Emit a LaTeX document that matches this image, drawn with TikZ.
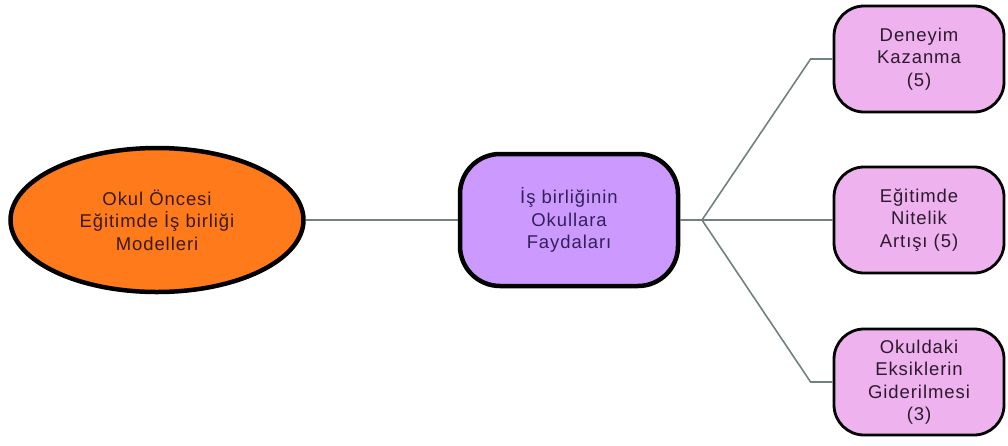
\documentclass[tikz,border=0pt]{standalone}
\usepackage{fontspec}
\setmainfont{Liberation Sans}[LetterSpace=5]
\usepackage{tikz}
\usetikzlibrary{shapes.geometric}
\definecolor{rootFill}{HTML}{FF7A1A}
\definecolor{rootText}{HTML}{3A1A10}
\definecolor{hubFill}{HTML}{CC99FF}
\definecolor{hubText}{HTML}{33205A}
\definecolor{leafFill}{HTML}{EEB2EE}
\definecolor{leafText}{HTML}{2E1A2E}
\definecolor{linkGray}{HTML}{72807F}

\begin{document}
\begin{tikzpicture}[
  x=1pt,
  y=-1pt,
  every node/.style={
    align=center,
    font=\fontsize{18.5}{22.5}\selectfont,
    inner sep=0pt,
  },
  root/.style={
    ellipse,
    draw=black,
    line width=4.5pt,
    fill=rootFill,
    text=rootText,
    minimum width=293pt,
    minimum height=144pt,
  },
  hub/.style={
    rectangle,
    rounded corners=40pt,
    draw=black,
    line width=4.5pt,
    fill=hubFill,
    text=hubText,
    minimum width=218pt,
    minimum height=132pt,
  },
  leaf/.style={
    rectangle,
    rounded corners=30pt,
    draw=black,
    line width=2.8pt,
    fill=leafFill,
    text=leafText,
    minimum width=170pt,
    minimum height=106pt,
  },
  link/.style={
    draw=linkGray,
    line width=1.6pt,
  },
]
\useasboundingbox (0,0) rectangle (1008,445);
\node[root] (okul) at (157,220) {Okul Öncesi\\Eğitimde İş birliği\\Modelleri};
\node[hub] (fayda) at (569,220) {İş birliğinin\\Okullara\\Faydaları};
\node[leaf] (deneyim) at (919,59) {Deneyim\\Kazanma\\(5)};
\node[leaf] (nitelik) at (919,220) {Eğitimde\\Nitelik\\Artışı (5)};
\node[leaf] (eksik) at (919,382) {Okuldaki\\Eksiklerin\\Giderilmesi\\(3)};
\coordinate (fork) at (702,220);
\draw[link] (okul) -- (fayda);
\draw[link] (fayda.east) -- (fork);
\draw[link] (fork) -- ([xshift=-22pt]deneyim.west) -- (deneyim.west);
\draw[link] (fork) -- (nitelik.west);
\draw[link] (fork) -- ([xshift=-22pt]eksik.west) -- (eksik.west);
\end{tikzpicture}
\end{document}
